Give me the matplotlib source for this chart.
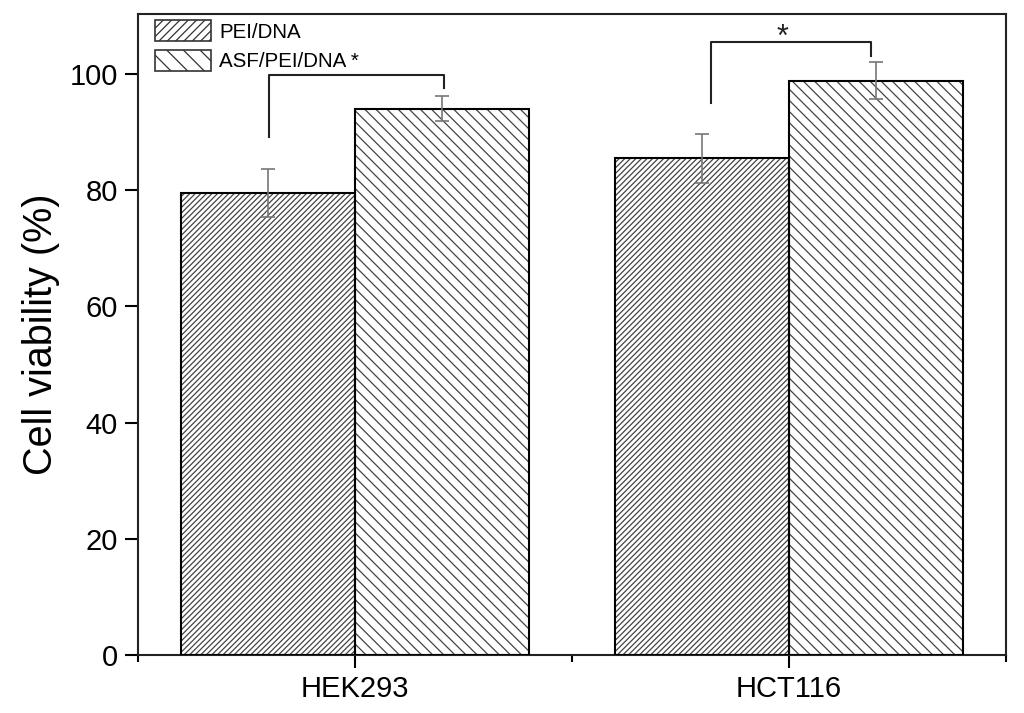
import matplotlib
matplotlib.use("Agg")
import matplotlib.pyplot as plt
import numpy as np
from matplotlib.patches import Patch

plt.rcParams['font.family'] = ['Liberation Sans', 'DejaVu Sans']
plt.rcParams['hatch.linewidth'] = 0.9

categories = ["HEK293", "HCT116"]
series_names = ["PEI/DNA", "ASF/PEI/DNA *"]
pei_vals = [79.5, 85.5]
pei_err = [4.2, 4.2]
asf_vals = [94.0, 98.8]
asf_err = [2.1, 3.2]
y_ticks = [0, 20, 40, 60, 80, 100]

fig = plt.figure(figsize=(10.24, 7.13), dpi=100)
ax = fig.add_axes([0.1348, 0.0814, 0.8476, 0.899])

x = np.arange(len(categories))
w = 0.4
hatch_col = '#444444'
hatch_pei = '//////'
hatch_asf = '\\\\\\'
for vals, off, hatch in [(pei_vals, -w / 2, hatch_pei), (asf_vals, w / 2, hatch_asf)]:
    ax.bar(x + off, vals, w, color='white', edgecolor=hatch_col, hatch=hatch, linewidth=0, zorder=2)
    ax.bar(x + off, vals, w, color='none', edgecolor='black', linewidth=1.5, zorder=3)

ax.errorbar(x - w / 2, pei_vals, yerr=pei_err, fmt='none', ecolor='#777777', elinewidth=1.2,
            capsize=4.7, capthick=1.2, zorder=4)
ax.errorbar(x + w / 2, asf_vals, yerr=asf_err, fmt='none', ecolor='#777777', elinewidth=1.2,
            capsize=4.7, capthick=1.2, zorder=4)

# significance brackets
brackets = [(0 - w / 2 + 0.002, 0 + w / 2 + 0.005, 89.2, 99.8, 97.6),
            (1 - w / 2 + 0.02, 1 + w / 2 - 0.01, 94.9, 105.4, 103.0)]
for x1, x2, yl, yt, yr in brackets:
    ax.plot([x1, x1, x2, x2], [yl, yt, yt, yr], color='#222222', lw=1.5, zorder=5)
ax.text(0.985, 106.2, '*', ha='center', va='center', fontsize=22, color='#222222')

ax.set_xlim(-0.5, 1.5)
ax.set_ylim(0, 110.3)
ax.set_xticks(x)
ax.set_xticklabels(categories)
ax.set_xticks([-0.5, 0.5, 1.5], minor=True)
ax.set_yticks(y_ticks)
ax.tick_params(axis='both', which='major', direction='out', length=9.5, width=1.5,
               labelsize=21, pad=5)
ax.tick_params(axis='x', which='minor', direction='out', length=5, width=1.5)
ax.tick_params(axis='y', which='minor', left=False)
ax.set_ylabel('Cell viability (%)', fontsize=28.5, labelpad=7)
for s in ax.spines.values():
    s.set_linewidth(1.5)
    s.set_color('#222222')

handles = [Patch(facecolor='white', edgecolor='#333333', hatch='////', linewidth=1.2),
           Patch(facecolor='white', edgecolor='#333333', hatch='\\\\', linewidth=1.2)]
ax.legend(handles, series_names, loc='upper left', bbox_to_anchor=(0.013, 1.0), frameon=False,
          fontsize=14.8, handlelength=2.7, handleheight=1.2, handletextpad=0.4,
          labelspacing=0.4, borderaxespad=0.2, borderpad=0.1)

fig.savefig('out.png', dpi=100)
